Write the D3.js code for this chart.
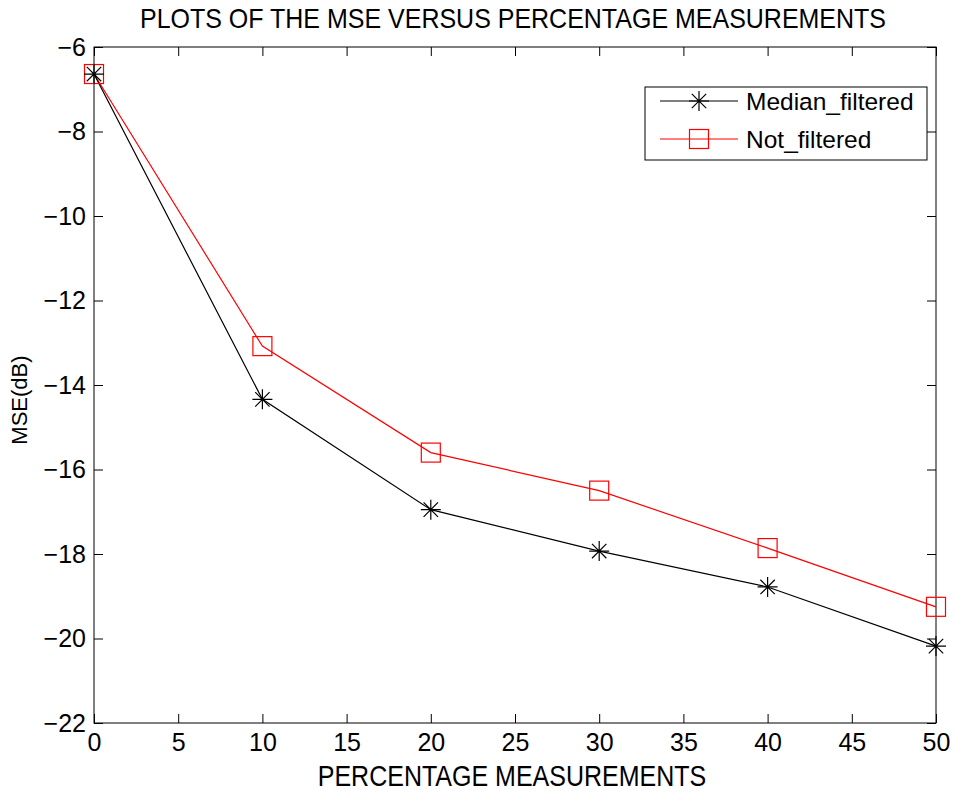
<!DOCTYPE html>
<meta charset="utf-8">
<head>
    <style>
        body {margin: 0; background: #fff;}
        text {font-family: "Liberation Sans", Arial, sans-serif; fill: #000;}
        .axis path, .axis line {stroke: #000;}
    </style>
    <script src="https://d3js.org/d3.v7.min.js"></script>
</head>
<body>
<script>

    var percent = [0, 10, 20, 30, 40, 50],
        medianFiltered = [-6.64, -14.34, -16.95, -17.93, -18.78, -20.18],
        notFiltered = [-6.64, -13.08, -15.60, -16.50, -17.86, -19.25],
        xTicks = [0, 5, 10, 15, 20, 25, 30, 35, 40, 45, 50],
        yTicks = [-22, -20, -18, -16, -14, -12, -10, -8, -6];

    var margin = {top: 47, right: 19, bottom: 70, left: 94},
        width = 955 - margin.left - margin.right,
        height = 793 - margin.top - margin.bottom;

    var svg = d3.select("body").append("svg")
        .attr("width", 955)
        .attr("height", 793)
      .append("g")
        .attr("transform", "translate(" + margin.left + "," + margin.top + ")");

    var x = d3.scaleLinear().domain([0, 50]).range([0, width]);
    var y = d3.scaleLinear().domain([-22, -6]).range([height, 0]);

    // box with inward ticks on all four sides (matlab style)
    svg.append("rect")
        .attr("width", width).attr("height", height)
        .attr("fill", "none").attr("stroke", "#000");

    svg.append("g").attr("class", "axis")
        .attr("transform", "translate(0," + height + ")")
        .call(d3.axisBottom(x).tickValues(xTicks).tickSizeInner(-9).tickSizeOuter(0).tickPadding(10))
        .call(g => g.select(".domain").remove())
        .selectAll("text").style("font-size", "25px");

    svg.append("g").attr("class", "axis")
        .call(d3.axisTop(x).tickValues(xTicks).tickSizeInner(-9).tickSizeOuter(0).tickFormat(""))
        .call(g => g.select(".domain").remove());

    svg.append("g").attr("class", "axis")
        .call(d3.axisLeft(y).tickValues(yTicks).tickSizeInner(-9).tickSizeOuter(0).tickPadding(8))
        .call(g => g.select(".domain").remove())
        .selectAll("text").style("font-size", "25px");

    svg.append("g").attr("class", "axis")
        .attr("transform", "translate(" + width + ",0)")
        .call(d3.axisRight(y).tickValues(yTicks).tickSizeInner(-9).tickSizeOuter(0).tickFormat(""))
        .call(g => g.select(".domain").remove());

    // titles
    svg.append("text")
        .attr("transform", "translate(" + (width/2 - 2) + ",-19) scale(1,1.1)")
        .attr("text-anchor", "middle")
        .style("font-size", "25px")
        .text("PLOTS OF THE MSE VERSUS PERCENTAGE MEASUREMENTS");

    svg.append("text")
        .attr("transform", "translate(" + (width/2 - 3) + "," + (height + 63) + ") scale(1,1.15)")
        .attr("text-anchor", "middle")
        .style("font-size", "25px")
        .text("PERCENTAGE MEASUREMENTS");

    svg.append("text")
        .attr("transform", "translate(-67,353) rotate(-90)")
        .attr("text-anchor", "middle")
        .style("font-size", "22px")
        .text("MSE(dB)");

    var line = d3.line()
        .x(function(d, i) {return x(percent[i])})
        .y(function(d) {return y(d)});

    function star(g, r) {
        var a = r * 0.72;
        g.append("path")
            .attr("d", "M" + (-r) + ",0H" + r + "M0," + (-r) + "V" + r +
                "M" + (-a) + "," + (-a) + "L" + a + "," + a +
                "M" + (-a) + "," + a + "L" + a + "," + (-a))
            .attr("stroke", "#000").attr("stroke-width", 1.2).attr("fill", "none");
    }

    function square(g, s) {
        g.append("rect")
            .attr("x", -s/2).attr("y", -s/2).attr("width", s).attr("height", s)
            .attr("fill", "none").attr("stroke", "#ff0000").attr("stroke-width", 1.2);
    }

    svg.append("path").datum(notFiltered)
        .attr("d", line).attr("fill", "none").attr("stroke", "#ff0000").attr("stroke-width", 1.2);
    svg.append("path").datum(medianFiltered)
        .attr("d", line).attr("fill", "none").attr("stroke", "#000").attr("stroke-width", 1.2);

    svg.selectAll(".sq").data(notFiltered)
      .enter().append("g")
        .attr("transform", function(d, i) {return "translate(" + x(percent[i]) + "," + y(d) + ")"})
        .each(function() {square(d3.select(this), 19)});

    svg.selectAll(".st").data(medianFiltered)
      .enter().append("g")
        .attr("transform", function(d, i) {return "translate(" + x(percent[i]) + "," + y(d) + ")"})
        .each(function() {star(d3.select(this), 10)});

    // legend
    var legend = svg.append("g").attr("transform", "translate(" + (645 - margin.left) + "," + (87 - margin.top) + ")");
    legend.append("rect")
        .attr("width", 282).attr("height", 73)
        .attr("fill", "#fff").attr("stroke", "#000");

    var items = [
        {name: "Median_filtered", color: "#000", mark: star, size: 10},
        {name: "Not_filtered", color: "#ff0000", mark: square, size: 19}
    ];

    var row = legend.selectAll(".row").data(items)
      .enter().append("g")
        .attr("transform", function(d, i) {return "translate(0," + (14 + i * 38) + ")"});

    row.append("line")
        .attr("x1", 15).attr("x2", 93)
        .attr("stroke", function(d) {return d.color}).attr("stroke-width", 1.2);
    row.append("g")
        .attr("transform", "translate(54,0)")
        .each(function(d) {d.mark(d3.select(this), d.size)});
    row.append("text")
        .attr("x", 101).attr("dy", "0.35em")
        .style("font-size", "24.5px")
        .text(function(d) {return d.name});

</script>
</body>
